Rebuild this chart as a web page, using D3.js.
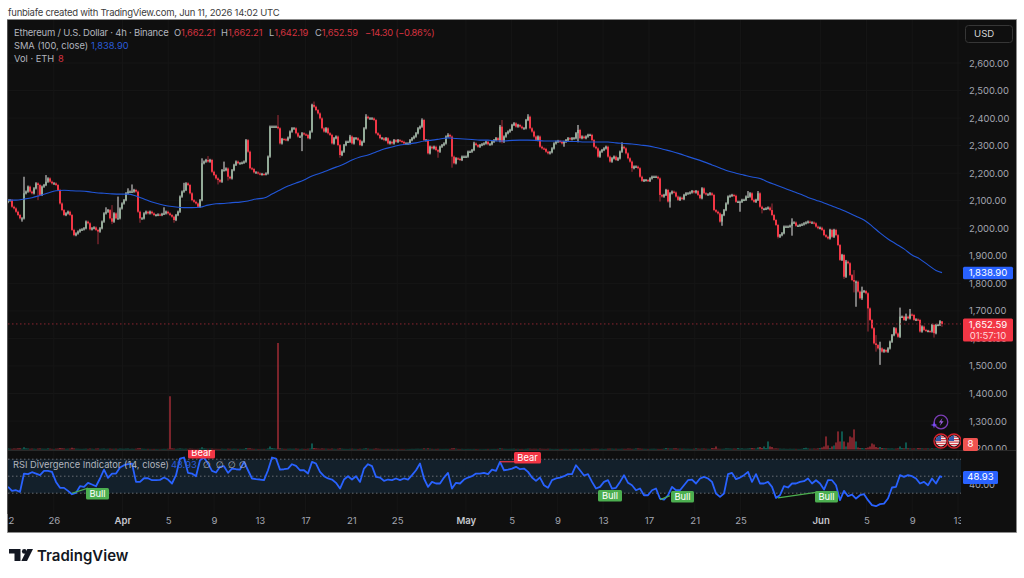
<!DOCTYPE html>
<html>
<head>
<meta charset="utf-8">
<script src="https://d3js.org/d3.v7.min.js"></script>
<style>
  html, body { margin: 0; padding: 0; background: #fff; }
  svg { display: block; font-family: Inter, "Liberation Sans", sans-serif; }
</style>
</head>
<body>
<svg id="chart" width="1024" height="578"></svg>
<script>
// ETH/USD 4h closes, oldest first
const closes = [
  2102,2102,2078,2072,2060,2048,2036,2036,2127,2133,2151,2133,2127,2145,2163,2157,2121,2151,2157,2169,
  2181,2169,2163,2163,2157,2139,2090,2066,2048,2054,2060,2048,1994,1975,1981,1988,1994,1996,2000,2024,
  2018,1996,2000,2003,1994,1988,2000,2024,2054,2060,2066,2036,2024,2054,2036,2036,2072,2090,2102,2127,
  2133,2133,2133,2139,2133,2060,2036,2036,2054,2060,2054,2060,2054,2048,2048,2050,2048,2052,2054,2060,
  2054,2048,2042,2030,2048,2060,2115,2133,2139,2163,2157,2127,2102,2096,2090,2078,2102,2236,2242,2248,
  2242,2248,2205,2193,2181,2175,2169,2211,2211,2217,2187,2181,2211,2230,2242,2236,2236,2238,2242,2320,
  2278,2218,2215,2203,2203,2199,2196,2197,2196,2199,2260,2369,2369,2369,2369,2363,2308,2324,2323,2320,
  2329,2351,2363,2363,2345,2333,2333,2345,2341,2339,2327,2351,2448,2441,2429,2417,2399,2363,2351,2363,
  2345,2339,2308,2327,2333,2302,2266,2278,2302,2314,2314,2333,2308,2327,2327,2320,2302,2314,2363,2405,
  2399,2399,2399,2393,2345,2339,2327,2327,2320,2327,2308,2314,2308,2320,2314,2320,2317,2314,2308,2308,
  2308,2320,2327,2333,2345,2363,2369,2393,2320,2320,2272,2296,2290,2296,2284,2278,2296,2302,2308,2333,
  2339,2333,2260,2236,2254,2252,2248,2260,2260,2260,2278,2278,2284,2308,2302,2296,2302,2305,2308,2314,
  2305,2305,2314,2320,2327,2320,2369,2314,2333,2345,2351,2357,2375,2381,2369,2375,2369,2363,2363,2393,
  2405,2363,2351,2333,2320,2333,2296,2290,2288,2278,2272,2276,2290,2308,2314,2317,2314,2308,2314,2320,
  2327,2323,2327,2327,2345,2357,2327,2333,2327,2333,2339,2339,2320,2296,2290,2260,2278,2284,2290,2296,
  2260,2242,2254,2260,2248,2254,2278,2296,2290,2272,2254,2242,2218,2224,2224,2218,2187,2172,2175,2175,
  2172,2181,2187,2187,2187,2181,2121,2115,2121,2139,2097,2127,2133,2130,2115,2103,2111,2106,2121,2127,
  2127,2130,2135,2130,2135,2121,2109,2145,2127,2123,2123,2127,2121,2066,2060,2054,2024,2048,2066,2090,
  2115,2118,2121,2118,2096,2096,2096,2103,2103,2115,2115,2127,2103,2096,2103,2127,2078,2070,2070,2072,
  2075,2066,2048,2030,2012,1969,1975,1982,2006,2006,2006,2009,2021,2021,2009,2009,2012,2014,2018,2021,
  2024,2021,2021,2018,2006,2000,2002,1994,1975,1969,1963,1994,1969,1994,1975,1939,1885,1903,1824,1879,
  1873,1830,1812,1806,1806,1770,1746,1770,1772,1764,1709,1667,1637,1582,1576,1564,1564,1552,1558,1552,
  1564,1588,1612,1637,1618,1606,1679,1679,1667,1679,1673,1687,1685,1667,1669,1667,1625,1643,1631,1627,
  1627,1625,1649,1619,1649,1649,1662.21,1652.59
];
const firstOpen = 2095;

// Bars whose wicks reach well past the body: [bar, price]
const longHighs = [
  [8,2187],[19,2193],[49,2076],[52,2084],[55,2115],[60,2145],[62,2159],[78,2076],[88,2165],[97,2254],
  [100,2262],[108,2242],[135,2411],[153,2460],[171,2339],[179,2414],[207,2399],[220,2345],[233,2314],
  [246,2375],[247,2393],[260,2414],[285,2375],[307,2312],[330,2143],[348,2147],[370,2135],[375,2135],
  [382,2090],[392,2036],[419,1885],[423,1848],[427,1788],[434,1612],[436,1588],[446,1712],[449,1690],[451,1707]
];
const longLows = [
  [7,2024],[15,2102],[45,1942],[52,2015],[66,2020],[83,2020],[105,2159],[107,2175],[110,2173],[147,2280],
  [166,2256],[210,2268],[215,2256],[222,2220],[246,2312],[247,2308],[278,2296],[285,2312],[295,2256],
  [312,2205],[326,2097],[331,2075],[357,2009],[366,2060],[377,2054],[385,1963],[392,1973],[418,1816],
  [423,1767],[424,1715],[427,1740],[430,1625],[434,1552],[436,1504],[446,1612],[463,1603]
];
const restingWick = 4;

// SMA(100), one reading every fourth bar plus the final bar
const sma = [
  2102,2102,2106,2111,2119,2128,2136,2138,2136,2135,2133,2129,2127,2125,2124,2124,2117,2106,2095,2087,
  2081,2077,2075,2075,2076,2084,2089,2090,2093,2095,2099,2106,2110,2124,2139,2153,2164,2175,2190,2200,
  2211,2222,2233,2248,2259,2266,2277,2288,2295,2302,2306,2310,2317,2320,2324,2328,2326,2324,2322,2320,
  2320,2317,2317,2319,2320,2320,2319,2317,2317,2317,2315,2315,2313,2313,2313,2313,2310,2308,2306,2302,
  2299,2293,2286,2279,2270,2260,2251,2241,2230,2219,2208,2200,2193,2186,2181,2168,2157,2146,2135,2124,
  2112,2102,2092,2081,2070,2057,2044,2030,2008,1983,1961,1943,1925,1903,1888,1867,1847,1838.9
];

// RSI(14), one reading every second bar plus the final bar
const rsi = [
  37.5,32.7,33.5,31.6,53.1,52.4,54.7,53.1,51.2,56.3,56.3,55.1,43.3,36.3,36.3,32.7,28.8,30.4,38.2,37.5,
  42.2,40.2,38.2,47.3,57.8,48,53.1,53.1,60.2,62.9,64.1,64.9,43.3,43.3,47.6,47.6,45.3,45.3,45.7,48.4,
  46.1,41.4,51.2,70.8,72,53.9,53.1,50,68.8,72,64.9,56.3,54.3,61,61.8,53.9,59,58.2,57.8,66.9,
  57,47.3,46.5,46.1,45.3,57,72,70.8,57.8,58.2,59,64.1,62.2,57,57,53.1,66.9,64.9,55.1,50,
  47.3,46.1,42.2,35.5,
  46.1,50,46.1,50,43.3,59,64.1,61.8,49.2,48.4,44.5,46.1,45.3,47.3,45.3,47.3,46.1,51.2,57,64.9,
  47.3,37.5,43.3,41.4,41.4,48.4,53.9,35.5,42.2,41.4,46.1,48.4,50,53.1,53.1,53.9,52.4,57.8,56.3,66.9,
  57,57.8,59,61,58.2,59,55.1,48.4,44.5,48.4,39.4,36.3,45.3,47.3,48.4,50,52.4,52.4,62.9,57,
  50.8,52.4,43.3,35.5,37.5,43.3,45.3,35.5,36.3,43.3,51.2,42.2,39.4,33.5,35.5,27.6,27.6,33.5,35.5,23.7,
  22.5,27.6,37.5,33.5,33.5,
  39.4,45.3,46.1,41.4,47.3,49.2,47.3,43.3,29.6,25.7,29.6,52.4,53.9,46.5,48.4,51.2,55.1,43.3,52.4,41.4,
  41.4,43.3,37.5,24.5,27.6,38.2,36.7,41.4,41.4,43.3,44.1,47.3,41.4,45.3,41.4,34.3,45.3,45.3,39.4,21.8,
  32.7,26.5,28.4,23.7,27.6,28.8,21.8,15.9,14.7,17.1,17.8,23.7,36.7,37.5,51.2,49.2,51.2,50,47.3,41.4,
  43.3,39.4,47.3,41.4,50,48.93
];

// Traded volume per bar (thousand ETH)
const volumes = [
  42,30,26,38,34,48,52,30,90,46,38,28,34,30,24,36,42,30,28,26,44,32,24,22,30,36,60,48,40,26,30,34,70,44,30,28,24,22,26,30,
  24,36,28,22,34,40,26,30,36,24,28,32,26,28,30,24,34,30,26,32,36,22,28,24,30,48,52,30,26,22,24,20,18,22,20,18,16,20,24,22,
  30,2120,46,36,24,30,42,32,26,30,24,36,30,24,22,26,34,90,40,32,28,30,34,26,24,22,20,28,24,22,30,26,24,28,26,22,24,20,24,60,
  44,48,30,24,22,20,18,20,22,18,40,120,60,44,36,4240,48,34,26,24,28,30,26,28,34,26,22,28,24,22,30,36,240,60,44,34,28,40,32,30,
  28,24,34,26,22,30,44,30,24,22,20,26,30,24,22,20,28,22,34,48,30,24,22,26,38,30,24,20,18,20,22,18,20,16,18,20,16,18,16,14,
  18,20,24,22,26,28,24,26,44,30,46,30,24,20,22,26,22,20,22,24,22,24,46,52,30,22,20,24,18,20,22,20,18,22,20,16,18,16,18,20,
  22,18,20,22,20,24,48,34,26,24,22,24,26,30,22,24,20,22,18,24,30,30,24,28,26,22,34,26,24,22,28,26,20,18,22,20,18,20,22,24,
  18,20,18,22,24,20,22,20,26,24,20,18,24,28,30,26,22,26,20,24,30,32,30,26,28,24,24,28,26,24,36,32,24,26,40,42,34,28,26,24,
  22,24,26,28,24,22,20,22,30,60,40,36,34,44,46,30,32,28,30,26,28,24,22,30,46,32,28,34,36,28,26,22,60,50,120,30,26,24,28,44,
  40,36,30,34,30,60,36,44,30,32,38,48,60,44,36,80,100,60,120,60,320,120,100,40,44,36,32,26,30,24,22,28,24,26,24,22,20,26,60,70,
  40,30,30,36,30,44,60,80,120,520,160,60,120,160,280,720,320,720,320,120,280,520,480,800,320,80,60,60,40,60,80,120,240,200,100,70,100,60,50,44,
  40,36,40,30,34,44,120,60,48,280,50,44,36,40,34,60,52,44,36,38,42,30,48,34,44,36,30,8
];

// Calendar labels along the time axis
const timeTicks = [
  ["2026-03-22","22"],["2026-03-26","26"],["2026-04-01","Apr"],["2026-04-05","5"],["2026-04-09","9"],
  ["2026-04-13","13"],["2026-04-17","17"],["2026-04-21","21"],["2026-04-25","25"],["2026-05-01","May"],
  ["2026-05-05","5"],["2026-05-09","9"],["2026-05-13","13"],["2026-05-17","17"],["2026-05-21","21"],
  ["2026-05-25","25"],["2026-06-01","Jun"],["2026-06-05","5"],["2026-06-09","9"],["2026-06-13","13"]
];
const priceTicks = [1200,1300,1400,1500,1600,1700,1800,1900,2000,2100,2200,2300,2400,2500,2600];
const rsiBands = [70,50,30];

// RSI divergence flags: anchor bar span on the RSI line, flag box, label
const divergences = [
  { kind:"Bull", from:[32,30], to:[40,36], box:[86,488,23] },
  { kind:"Bull", from:[326,22.5], to:[331,27], box:[671,491,23] },
  { kind:"Bull", from:[385,24.5], to:[404,31], box:[815,491,23] },
  { kind:"Bull", from:null, to:null, box:[598,490,24] },
  { kind:"Bear", from:[246,67], to:[253,67], box:[514,452,27] },
  { kind:"Bear", from:null, to:null, box:[188,447,27] }
];

// Layout
const frame = { x:8, y:20, w:1008, h:512 };
const paneRight = 961, priceBottom = 450;

const barX = d3.scaleLinear().domain([0, closes.length-1]).range([8, 942]);
const timeX = d3.scaleUtc().domain([new Date("2026-03-22"), new Date("2026-06-13")]).range([8, 958]);
const priceY = d3.scaleLinear().domain([1200,2600]).range([448.6,63]);
const volY = d3.scaleLinear().domain([0,4240]).range([449.5,343]);
const rsiY = d3.scaleLinear().domain([30,70]).range([493.2,459.2]);

const RED = "#f23645", BLUE = "#2962ff", GREEN = "#4caf50";
const GREY = "#a3a6af", SOFT = "#b2b5be";

const svg = d3.select("#chart");
const defs = svg.append("defs");
const clip = (id,x,y,w,h)=>defs.append("clipPath").attr("id",id).append("rect").attr("x",x).attr("y",y).attr("width",w).attr("height",h);
clip("plot",8,20,paneRight-8,priceBottom-20);
clip("rsiPane",8,450,paneRight-8,65);
clip("timeAxis",8,514,paneRight-8,18);
clip("priceAxis",paneRight,20,1016-paneRight,priceBottom-20);
clip("rsiAxis",paneRight,450,1016-paneRight,64);

// Header line and chart surface
svg.append("text").attr("x",8).attr("y",15.5).attr("fill","#3c3c3c").attr("font-size",9.5).attr("letter-spacing",-0.25)
  .text("funbiafe created with TradingView.com, Jun 11, 2026 14:02 UTC");
svg.append("rect").attr("x",frame.x-0.5).attr("y",frame.y-0.5).attr("width",frame.w+1).attr("height",frame.h+1)
  .attr("fill","#0f0f0f").attr("stroke","#8d8d8d").attr("stroke-width",0.8);

// Faint grid
const grid = svg.append("g").attr("stroke","#161616").attr("stroke-width",1);
grid.selectAll("line.h").data(priceTicks).join("line").attr("class","h")
  .attr("x1",8).attr("x2",paneRight).attr("y1",d=>priceY(d)).attr("y2",d=>priceY(d));
grid.selectAll("line.v").data(timeTicks).join("line").attr("class","v")
  .attr("x1",d=>timeX(new Date(d[0]))).attr("x2",d=>timeX(new Date(d[0]))).attr("y1",20).attr("y2",514);

// Pane divider
svg.append("line").attr("x1",8).attr("x2",1016).attr("y1",450.5).attr("y2",450.5).attr("stroke","#2a2a2a");

// Volume histogram
const bars = closes.map((c,i)=>({ i, close:c, open:i?closes[i-1]:firstOpen, vol:volumes[i] }));
const highMap = new Map(longHighs), lowMap = new Map(longLows);
bars.forEach(b=>{
  b.high = Math.max(highMap.get(b.i) ?? -Infinity, Math.max(b.open,b.close)+restingWick);
  b.low  = Math.min(lowMap.get(b.i) ?? Infinity,  Math.min(b.open,b.close)-restingWick);
  if (b.i === closes.length-1) { b.high = 1662.21; b.low = 1642.19; }
  b.up = b.close >= b.open;
});
const plot = svg.append("g").attr("clip-path","url(#plot)");
plot.append("g").selectAll("rect").data(bars).join("rect")
  .attr("x",d=>barX(d.i)-0.75).attr("width",1.5)
  .attr("y",d=>volY(d.vol)).attr("height",d=>Math.max(0.2,volY(0)-volY(d.vol)))
  .attr("fill",d=>d.up?"#0f6f63":"#a02c36");

// Candles
const candles = plot.append("g");
candles.selectAll("line").data(bars).join("line")
  .attr("x1",d=>barX(d.i)).attr("x2",d=>barX(d.i))
  .attr("y1",d=>priceY(d.high)).attr("y2",d=>priceY(d.low))
  .attr("stroke",d=>d.up?"#e6e6e6":"#a52f3a").attr("stroke-width",1);
candles.selectAll("rect").data(bars).join("rect")
  .attr("x",d=>barX(d.i)-1).attr("width",2)
  .attr("y",d=>priceY(Math.max(d.open,d.close)))
  .attr("height",d=>Math.max(1.2,Math.abs(priceY(d.open)-priceY(d.close))))
  .attr("fill",d=>d.up?"#93ab98":RED);

// SMA line
const smaBar = k => Math.min(k*4, closes.length-1);
plot.append("path").datum(sma)
  .attr("fill","none").attr("stroke","#2156d8").attr("stroke-width",1.1)
  .attr("d",d3.line().x((d,k)=>barX(smaBar(k))).y(d=>priceY(d)).curve(d3.curveMonotoneX));

// Last price line
plot.append("line").datum(closes[closes.length-1])
  .attr("x1",8).attr("x2",paneRight).attr("y1",d=>priceY(d)).attr("y2",d=>priceY(d))
  .attr("stroke","#8c2530").attr("stroke-width",1).attr("stroke-dasharray","1.5 2.5");

// Event markers beside the last bar
const marks = plot.append("g");
const bolt = marks.append("g").attr("transform","translate(941,422)");
bolt.append("circle").attr("r",6.8).attr("fill","none").attr("stroke","#7b3db5").attr("stroke-width",1.3);
bolt.append("path").attr("d","M1.5,-4 L-2.2,0.6 L0,0.6 L-1.2,4 L2.6,-0.8 L0.3,-0.8 Z").attr("fill","#9b5ddd");
marks.append("path").attr("d","M-3.5,0 L-0.8,-0.8 L0,-3.5 L0.8,-0.8 L3.5,0 L0.8,0.8 L0,3.5 L-0.8,0.8 Z")
  .attr("transform","translate(934,425)").attr("fill","#7c4dff");
[941,954].forEach((cx,idx)=>{
  const id = "flag"+idx;
  defs.append("clipPath").attr("id",id).append("circle").attr("cx",cx).attr("cy",441).attr("r",5.4);
  const f = marks.append("g");
  f.append("circle").attr("cx",cx).attr("cy",441).attr("r",7).attr("fill","#0f0f0f").attr("stroke","#d8202e").attr("stroke-width",1.4);
  const g = f.append("g").attr("clip-path",`url(#${id})`);
  g.append("rect").attr("x",cx-6).attr("y",435).attr("width",12).attr("height",12).attr("fill","#f2f2f2");
  [436.5,439,441.5,444,446].forEach(y=>g.append("rect").attr("x",cx-6).attr("y",y).attr("width",12).attr("height",1.2).attr("fill","#d33a45"));
  g.append("rect").attr("x",cx-6).attr("y",435).attr("width",6).attr("height",6).attr("fill","#3357a8");
});

// RSI pane
const rsiG = svg.append("g").attr("clip-path","url(#rsiPane)");
rsiG.append("rect").attr("x",8).attr("y",rsiY(70)).attr("width",paneRight-8).attr("height",rsiY(30)-rsiY(70)).attr("fill","#13202b");
rsiG.selectAll("line.band").data(rsiBands).join("line").attr("class","band")
  .attr("x1",8).attr("x2",paneRight).attr("y1",d=>rsiY(d)).attr("y2",d=>rsiY(d))
  .attr("stroke","#7d8087").attr("stroke-width",0.8).attr("stroke-dasharray","1.5 2.5");
const rsiBar = k => Math.min(k*2, closes.length-1);
rsiG.append("path").datum(rsi).attr("fill","none").attr("stroke","#2962ff").attr("stroke-width",1.8)
  .attr("stroke-linejoin","round")
  .attr("d",d3.line().x((d,k)=>barX(rsiBar(k))).y(d=>rsiY(d)));

// Divergence flags
divergences.forEach(dv=>{
  const colour = dv.kind==="Bull" ? GREEN : RED;
  if (dv.from) rsiG.append("line")
    .attr("x1",barX(dv.from[0])).attr("y1",rsiY(dv.from[1]))
    .attr("x2",barX(dv.to[0])).attr("y2",rsiY(dv.to[1]))
    .attr("stroke",colour).attr("stroke-width",1.2);
  const [bx,by,bw] = dv.box;
  rsiG.append("rect").attr("x",bx).attr("y",by).attr("width",bw).attr("height",11.5).attr("rx",1.5).attr("fill",colour);
  rsiG.append("text").attr("x",bx+bw/2).attr("y",by+9).attr("text-anchor","middle")
    .attr("font-size",9.4).attr("fill","#fff").text(dv.kind);
});

// Right price axis
const priceAxis = d3.axisRight(priceY).tickValues(priceTicks).tickSize(0).tickPadding(0)
  .tickFormat(d3.format(",.2f"));
svg.append("g").attr("clip-path","url(#priceAxis)")
  .append("g").attr("transform","translate(969,0)").call(priceAxis)
  .call(g=>g.select(".domain").remove())
  .call(g=>g.selectAll("text").attr("fill",GREY).attr("font-size",9.4).attr("font-family","Inter, sans-serif"));

// RSI scale label sitting behind the value badge
const rsiAxis = d3.axisRight(rsiY).tickValues([40]).tickSize(0).tickPadding(0).tickFormat(d3.format(".2f"));
svg.append("g").attr("clip-path","url(#rsiAxis)")
  .append("g").attr("transform","translate(969,0)").call(rsiAxis)
  .call(g=>g.select(".domain").remove())
  .call(g=>g.selectAll("text").attr("fill",GREY).attr("font-size",9.4).attr("font-family","Inter, sans-serif"));

// Time axis
const tickLabel = new Map(timeTicks.map(t=>[+new Date(t[0]),t[1]]));
const timeAxis = d3.axisBottom(timeX).tickValues(timeTicks.map(t=>new Date(t[0]))).tickSize(0).tickPadding(0)
  .tickFormat(d=>tickLabel.get(+d));
svg.append("g").attr("clip-path","url(#timeAxis)")
  .append("g").attr("transform","translate(0,517)").call(timeAxis)
  .call(g=>g.select(".domain").remove())
  .call(g=>g.selectAll("text")
    .attr("fill",d=>/[A-Z]/.test(tickLabel.get(+d))?"#c4c6cc":GREY)
    .attr("font-weight",d=>/[A-Z]/.test(tickLabel.get(+d))?600:400)
    .attr("font-size",9.6).attr("font-family","Inter, sans-serif"));

// Value badges on the scale
function badge(x,y,w,h,fill,lines,colours){
  svg.append("rect").attr("x",x).attr("y",y).attr("width",w).attr("height",h).attr("rx",1.5).attr("fill",fill);
  lines.forEach((t,i)=>svg.append("text").attr("x",x+w/2).attr("y",y+9.4+i*11.5).attr("text-anchor","middle")
    .attr("font-size",9.6).attr("fill",colours[i]).text(t));
}
const fmt = d3.format(",.2f");
const lastSma = sma[sma.length-1], lastClose = closes[closes.length-1], lastRsi = rsi[rsi.length-1], lastVol = volumes[volumes.length-1];
badge(963,priceY(lastSma)-6,50,12.5,BLUE,[fmt(lastSma)],["#fff"]);
badge(963,priceY(lastClose)-5.5,50,23,RED,[fmt(lastClose),"01:57:10"],["#fff","#ffd6da"]);
badge(963,471,35,13,BLUE,[d3.format(".2f")(lastRsi)],["#fff"]);
badge(963,438,15,13,"#ef5350",[String(lastVol)],["#fff"]);

// Currency button
svg.append("rect").attr("x",965.5).attr("y",25.5).attr("width",47).attr("height",17).attr("rx",3)
  .attr("fill","#0f0f0f").attr("stroke","#363636");
svg.append("text").attr("x",974).attr("y",37).attr("fill","#d6d6d6").attr("font-size",9.6).text("USD");

// Legend rows
const legend = svg.append("g").attr("font-size",9.3);
legend.append("text").attr("x",14).attr("y",36).attr("fill",SOFT).attr("font-size",9.5).attr("letter-spacing",-0.22).text("Ethereum / U.S. Dollar · 4h · Binance");
const ohlc = [["O",174,"1,662.21"],["H",221,"1,662.21"],["L",269,"1,642.19"],["C",315,"1,652.59"]];
ohlc.forEach(([k,x,v])=>{
  const t = legend.append("text").attr("x",x).attr("y",36);
  t.append("tspan").attr("fill",SOFT).text(k);
  t.append("tspan").attr("fill","#d63340").attr("letter-spacing",-0.15).text(v);
});
legend.append("text").attr("x",365).attr("y",36).attr("fill","#d63340").attr("letter-spacing",-0.3).text("−14.30 (−0.86%)");
legend.append("text").attr("x",14).attr("y",49).attr("fill",SOFT).text("SMA (100, close)");
legend.append("text").attr("x",91).attr("y",49).attr("fill","#2a5bd8").text("1,838.90");
legend.append("text").attr("x",14).attr("y",62).attr("fill",SOFT).text("Vol · ETH");
legend.append("text").attr("x",58).attr("y",62).attr("fill","#d63340").text("8");
legend.append("text").attr("x",13).attr("y",467.5).attr("fill",SOFT).text("RSI Divergence Indicator (14, close)");
legend.append("text").attr("x",171).attr("y",467.5).attr("fill","#2a5bd8").text("48.93");
[203,216,228,239].forEach(x=>legend.append("text").attr("x",x).attr("y",467.5).attr("fill",SOFT).attr("font-family","DejaVu Sans").text("∅"));

// Brand mark
const brand = svg.append("g").attr("fill","#131722");
brand.append("path").attr("d","M9,549 H20.5 V561 H14.5 V553.6 H9 Z");
brand.append("circle").attr("cx",24.3).attr("cy",551.4).attr("r",2.4);
brand.append("path").attr("d","M27.3,549 H33 L27,561 H21.3 Z");
brand.append("text").attr("x",37).attr("y",561).attr("font-size",15).attr("font-weight",600).text("TradingView");
</script>
</body>
</html>
